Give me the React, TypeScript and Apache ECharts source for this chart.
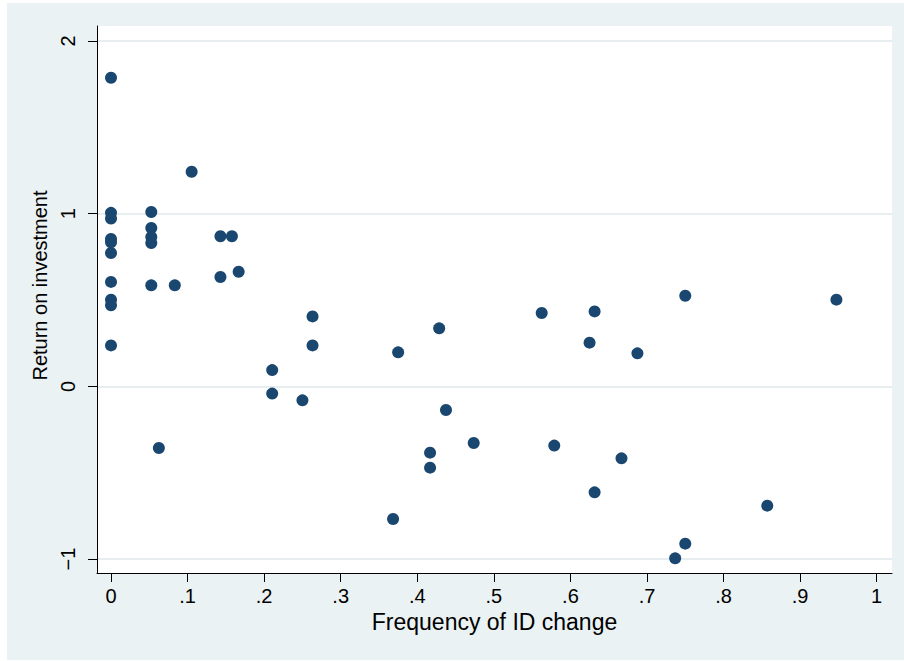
import { useEffect, useRef } from "react";
import * as echarts from "echarts";

// Frequency of ID change (x) and return on investment (y), one entry per observation
const idChangeFreq = [
  0, 0, 0, 0, 0, 0, 0, 0, 0, 0,
  0.0526, 0.0526, 0.0526, 0.0526, 0.0526,
  0.0625, 0.0833, 0.1053, 0.1429, 0.1429, 0.1579, 0.1667,
  0.2105, 0.2105, 0.25, 0.2632, 0.2632,
  0.3684, 0.375, 0.4167, 0.4167, 0.4286, 0.4375, 0.4737,
  0.5625, 0.5789, 0.625, 0.6316, 0.6316, 0.6667, 0.6875,
  0.7368, 0.75, 0.75, 0.8571, 0.9474,
];
const returnOnInvestment = [
  1.787, 1.005, 0.972, 0.853, 0.834, 0.772, 0.605, 0.502, 0.469, 0.237,
  1.01, 0.917, 0.865, 0.83, 0.585,
  -0.357, 0.585, 1.243, 0.869, 0.633, 0.869, 0.664,
  0.094, -0.042, -0.081, 0.405, 0.237,
  -0.768, 0.197, -0.384, -0.471, 0.336, -0.137, -0.328,
  0.425, -0.343, 0.253, 0.434, -0.614, -0.417, 0.191,
  -0.996, 0.525, -0.911, -0.691, 0.502,
];

const xTicks = [0, 0.1, 0.2, 0.3, 0.4, 0.5, 0.6, 0.7, 0.8, 0.9, 1];
const xTickLabels = ["0", ".1", ".2", ".3", ".4", ".5", ".6", ".7", ".8", ".9", "1"];
const yTicks = [-1, 0, 1, 2];
const yTickLabels = ["\u22121", "0", "1", "2"];

const FONT = "'Liberation Sans', Arial, Helvetica, sans-serif";
const BG = "#eaf2f3";
const NAVY = "#1a476f";

function labelFor(ticks: number[], labels: string[]) {
  return (v: number) => {
    const i = ticks.findIndex((t) => Math.abs(t - v) < 1e-6);
    return i >= 0 ? labels[i] : "";
  };
}

export default function App() {
  const ref = useRef<HTMLDivElement>(null);

  useEffect(() => {
    document.body.style.margin = "0";
    if (!ref.current) return;
    const chart = echarts.init(ref.current, undefined, { renderer: "svg" });
    const points = idChangeFreq.map((x, i) => [x, returnOnInvestment[i]]);

    chart.setOption({
      animation: false,
      backgroundColor: "#ffffff",
      graphic: [
        {
          type: "rect",
          z: -10,
          silent: true,
          shape: { x: 7, y: 3, width: 897, height: 657 },
          style: { fill: BG },
        },
      ],
      grid: {
        left: 97,
        right: 12,
        top: 26,
        bottom: 88,
        show: true,
        backgroundColor: "#ffffff",
        borderWidth: 0,
      },
      xAxis: {
        type: "value",
        min: -0.0183,
        max: 1.02,
        name: "Frequency of ID change",
        nameLocation: "middle",
        nameGap: 35,
        nameTextStyle: { color: "#000", fontFamily: FONT, fontSize: 23 },
        axisLine: { show: true, onZero: false, lineStyle: { color: "#000", width: 1 } },
        axisTick: {
          show: true,
          length: 9,
          customValues: xTicks,
          lineStyle: { color: "#000", width: 1 },
        },
        axisLabel: {
          customValues: xTicks,
          margin: 13,
          color: "#000",
          fontFamily: FONT,
          fontSize: 20,
          formatter: labelFor(xTicks, xTickLabels),
        },
        splitLine: { show: false },
      },
      yAxis: {
        type: "value",
        min: -1.081,
        max: 2.087,
        name: "Return on investment",
        nameLocation: "middle",
        nameGap: 42,
        nameTextStyle: {
          color: "#000",
          fontFamily: FONT,
          fontSize: 20,
          padding: [0, 0, 0, 28],
        },
        axisLine: { show: true, onZero: false, lineStyle: { color: "#000", width: 1 } },
        axisTick: {
          show: true,
          length: 9,
          customValues: yTicks,
          lineStyle: { color: "#000", width: 1 },
        },
        axisLabel: {
          customValues: yTicks,
          rotate: 90,
          margin: 19,
          color: "#000",
          fontFamily: FONT,
          fontSize: 20,
          formatter: labelFor(yTicks, yTickLabels),
        },
        splitLine: { show: true, lineStyle: { color: "#e6eef0", width: 2 } },
      },
      series: [
        {
          type: "scatter",
          data: points,
          symbol: "circle",
          symbolSize: 12,
          itemStyle: { color: NAVY, opacity: 1 },
        },
      ],
    });

    return () => chart.dispose();
  }, []);

  return <div ref={ref} style={{ width: 904, height: 661 }} />;
}
